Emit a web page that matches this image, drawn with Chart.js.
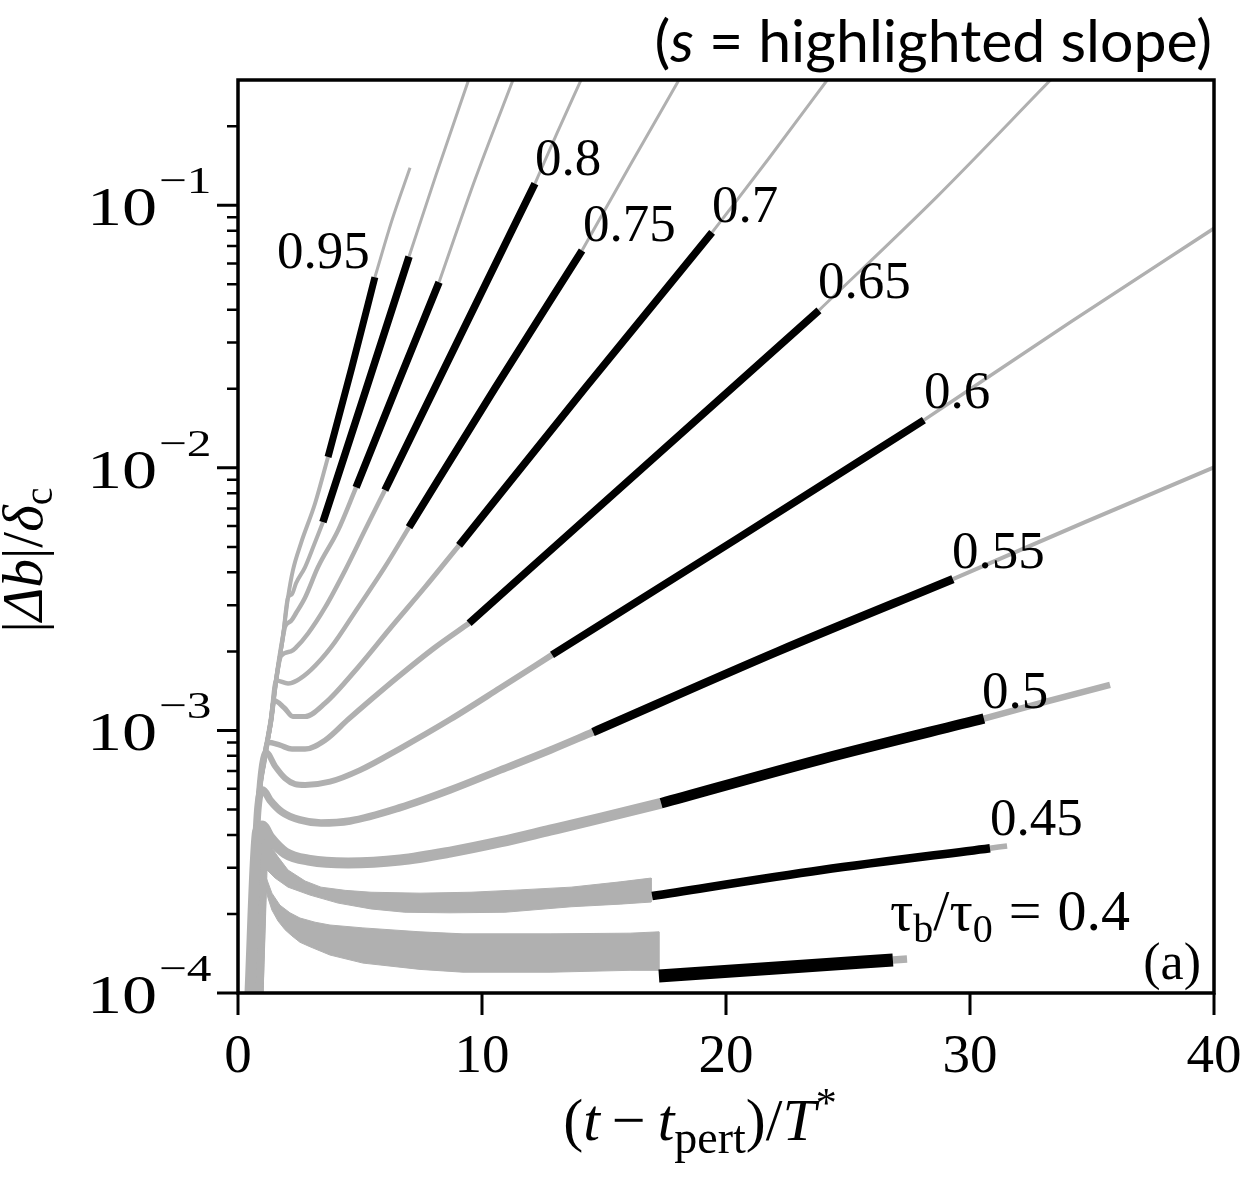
<!DOCTYPE html>
<html><head><meta charset="utf-8">
<script src="https://cdn.jsdelivr.net/npm/chart.js@4.4.1/dist/chart.umd.min.js"></script>
<style>html,body{margin:0;padding:0;background:#fff;}canvas{display:block;}</style>
</head><body>
<canvas id="c" width="1244" height="1179"></canvas>
<script>
// ---------- axes / ticks ----------
const xTickValues = [0, 10, 20, 30, 40];
const xTickLabels = ['0', '10', '20', '30', '40'];
const yMajorTicks = [1e-4, 1e-3, 1e-2, 1e-1];
const yTickBase = '10';
const yTickExponents = ['\u22124', '\u22123', '\u22122', '\u22121'];
const yMinorFactors = [2, 3, 4, 5, 6, 7, 8, 9];

// ---------- slope labels (tau_b/tau_0) ----------
const slopeLabels = ['0.95', '0.8', '0.75', '0.7', '0.65', '0.6', '0.55', '0.5', '0.45'];
const slopeLabelX = [1.60, 12.17, 14.14, 19.43, 23.77, 28.11, 29.26, 30.49, 30.82];
const slopeLabelY = [5.75e-2, 0.130, 7.29e-2, 8.61e-2, 4.43e-2, 1.69e-2, 4.15e-3, 1.22e-3, 3.99e-4];
const lowestLabelX = 26.72, lowestLabelY = 1.74e-4;

// ---------- curves: [t, |Δb|/δc] ----------
const c095Pre = [[0.47,9e-5],[0.82,5.1e-4],[1.07,7.7e-4],[1.35,1.09e-3],[1.56,1.55e-3],[1.84,2.27e-3],[2.05,3.21e-3],[2.25,4.07e-3],[2.58,5.16e-3],[3.16,7.33e-3],[3.69,1.10e-2]];
const c095Hi  = [[3.69,1.10e-2],[4.67,2.42e-2],[5.61,5.32e-2]];
const c095Post= [[5.61,5.32e-2],[6.31,8.77e-2],[7.05,0.139]];

const c090Pre = [[0.47,9e-5],[0.82,5.1e-4],[1.07,7.7e-4],[1.35,1.09e-3],[1.56,1.55e-3],[1.84,2.27e-3],[2.05,3.21e-3],[2.21,3.30e-3],[2.38,3.64e-3],[2.75,4.19e-3],[3.11,5.07e-3],[3.48,6.21e-3]];
const c090Hi  = [[3.48,6.21e-3],[5.25,1.99e-2],[7.01,6.38e-2]];
const c090Post= [[7.01,6.38e-2],[8.11,0.130],[9.45,0.30]];

const c085Pre = [[0.47,9e-5],[0.82,5.1e-4],[1.07,7.7e-4],[1.35,1.09e-3],[1.56,1.55e-3],[1.84,2.27e-3],[1.93,2.49e-3],[2.17,2.61e-3],[2.38,2.80e-3],[2.75,3.21e-3],[3.28,4.19e-3],[4.10,5.78e-3],[4.84,8.43e-3]];
const c085Hi  = [[4.84,8.43e-3],[6.52,2.06e-2],[8.24,5.09e-2]];
const c085Post= [[8.24,5.09e-2],[9.71,0.125],[11.27,0.30]];

const c080Pre = [[0.47,9e-5],[0.82,5.1e-4],[1.07,7.7e-4],[1.35,1.09e-3],[1.56,1.55e-3],[1.76,1.92e-3],[2.17,2.00e-3],[2.38,2.07e-3],[2.87,2.34e-3],[3.57,2.94e-3],[4.39,4.07e-3],[5.20,5.78e-3],[6.02,8.22e-3]];
const c080Hi  = [[6.02,8.22e-3],[9.10,3.17e-2],[12.17,0.121]];
const c080Post= [[12.17,0.121],[13.07,0.188],[14.06,0.30]];

const c075Pre = [[0.47,9e-5],[0.82,5.1e-4],[1.07,7.7e-4],[1.35,1.09e-3],[1.56,1.55e-3],[2.05,1.51e-3],[2.42,1.55e-3],[2.99,1.70e-3],[3.81,2.07e-3],[4.92,2.94e-3],[6.02,4.19e-3],[7.01,5.94e-3]];
const c075Hi  = [[7.01,5.94e-3],[10.53,2.01e-2],[14.10,6.73e-2]];
const c075Post= [[14.10,6.73e-2],[16.07,0.142],[18.07,0.30]];

const c070Pre = [[0.47,9e-5],[0.82,5.1e-4],[1.07,7.7e-4],[1.35,1.09e-3],[1.48,1.30e-3],[1.89,1.22e-3],[2.25,1.13e-3],[2.75,1.13e-3],[3.57,1.27e-3],[4.92,1.74e-3],[6.27,2.47e-3],[7.66,3.51e-3],[9.06,5.07e-3]];
const c070Hi  = [[9.06,5.07e-3],[14.22,2.01e-2],[19.43,7.88e-2]];
const c070Post= [[19.43,7.88e-2],[21.76,0.151],[24.15,0.30]];

const c065Pre = [[0.47,9e-5],[0.82,5.1e-4],[1.07,7.7e-4],[1.23,9.02e-4],[1.72,8.79e-4],[2.21,8.49e-4],[2.75,8.49e-4],[3.57,9.18e-4],[4.51,1.10e-3],[5.45,1.31e-3],[6.56,1.60e-3],[8.07,2.07e-3],[9.47,2.56e-3]];
const c065Hi  = [[9.47,2.56e-3],[16.64,1.01e-2],[23.81,3.98e-2]];
const c065Post= [[23.81,3.98e-2],[28.61,0.107],[33.3,0.30]];

const c060Pre = [[0.47,9e-5],[0.82,5.1e-4],[1.15,8.26e-4],[1.52,7.31e-4],[1.93,6.58e-4],[2.34,6.25e-4],[2.75,6.20e-4],[3.77,6.38e-4],[5.00,7.06e-4],[6.64,8.53e-4],[8.69,1.10e-3],[10.74,1.45e-3],[12.87,1.94e-3]];
const c060Hi  = [[12.87,1.94e-3],[20.49,5.40e-3],[28.11,1.52e-2]];
const c060Post= [[28.11,1.52e-2],[34.10,3.58e-2],[40,8.17e-2]];

const c055Pre = [[0.47,9e-5],[0.82,5.1e-4],[1.02,5.93e-4],[1.31,5.43e-4],[1.80,4.89e-4],[2.54,4.56e-4],[3.40,4.44e-4],[4.59,4.52e-4],[6.64,5.08e-4],[8.69,5.93e-4],[10.74,7.06e-4],[12.79,8.41e-4],[14.55,9.86e-4]];
const c055Hi  = [[14.55,9.86e-4],[22.13,2.00e-3],[29.30,3.77e-3]];
const c055Post= [[29.30,3.77e-3],[34.71,6.21e-3],[40,1.005e-2]];

const c050Pre = [[0.47,9e-5],[0.80,4.1e-4],[0.98,4.33e-4],[1.31,3.90e-4],[1.93,3.42e-4],[2.95,3.20e-4],[4.51,3.13e-4],[6.64,3.21e-4],[8.69,3.44e-4],[10.74,3.76e-4],[12.79,4.17e-4],[14.84,4.63e-4],[17.34,5.28e-4]];
const c050Hi  = [[17.34,5.28e-4],[23.93,7.78e-4],[30.57,1.11e-3]];
const c050Post= [[30.57,1.11e-3],[33.16,1.29e-3],[35.74,1.49e-3]];

const band045Upper = [[0.41,9.4e-5],[0.76,3.8e-4],[0.98,4.05e-4],[1.15,3.85e-4],[1.64,3.30e-4],[2.05,2.94e-4],[2.75,2.67e-4],[3.40,2.53e-4],[4.39,2.46e-4],[5.45,2.42e-4],[7.46,2.40e-4],[9.55,2.42e-4],[11.56,2.47e-4],[13.65,2.53e-4],[15.66,2.65e-4],[16.93,2.74e-4]];
const band045Lower = [[1.02,9.4e-5],[1.19,2.94e-4],[1.52,2.74e-4],[2.05,2.53e-4],[2.95,2.36e-4],[4.10,2.20e-4],[5.45,2.09e-4],[6.84,2.03e-4],[8.69,2.02e-4],[10.94,2.03e-4],[13.65,2.13e-4],[15.66,2.18e-4],[16.93,2.22e-4]];
const c045Hi  = [[16.97,2.34e-4],[23.93,2.94e-4],[30.82,3.56e-4]];
const c045Post= [[30.82,3.56e-4],[31.52,3.63e-4]];

const band040Upper = [[0.39,9.4e-5],[0.72,2.9e-4],[0.95,3.0e-4],[1.15,2.76e-4],[1.39,2.40e-4],[1.72,2.16e-4],[2.13,2.02e-4],[2.54,1.93e-4],[3.16,1.86e-4],[3.77,1.815e-4],[5.12,1.77e-4],[7.46,1.71e-4],[9.22,1.68e-4],[12.79,1.68e-4],[16.07,1.69e-4],[17.25,1.71e-4]];
const band040Lower = [[1.02,9.4e-5],[1.15,2.47e-4],[1.23,2.30e-4],[1.39,2.07e-4],[1.64,1.88e-4],[1.93,1.74e-4],[2.21,1.65e-4],[2.54,1.56e-4],[2.95,1.50e-4],[3.77,1.395e-4],[5.12,1.30e-4],[7.46,1.23e-4],[9.22,1.20e-4],[12.79,1.20e-4],[16.07,1.22e-4],[17.25,1.22e-4]];
const c040Hi  = [[17.25,1.161e-4],[22.05,1.245e-4],[26.84,1.335e-4]];
const c040Post= [[26.84,1.335e-4],[27.42,1.347e-4]];

// ---------- build datasets ----------
const GRAY = '#b0b0b0';
const BLACK = '#000000';
const toPts = a => a.map(p => ({x: p[0], y: p[1]}));
const datasets = [];
function line(arr, color, width, order) {
  datasets.push({data: toPts(arr), showLine: true, borderColor: color, borderWidth: width,
    pointRadius: 0, pointHoverRadius: 0, fill: false, order: order, clip: 0,
    cubicInterpolationMode: 'monotone', borderCapStyle: 'butt', borderJoinStyle: 'round'});
}
function band(upper, lower, order) {
  const poly = upper.concat(lower.slice().reverse());
  datasets.push({data: toPts(poly), showLine: true, borderColor: GRAY, borderWidth: 1,
    backgroundColor: GRAY, fill: 'shape', pointRadius: 0, tension: 0, order: order, clip: 0});
}
band(band040Upper, band040Lower, 5);
band(band045Upper, band045Lower, 5);
line(c050Pre, GRAY, 11, 4);
line(c055Pre, GRAY, 7.5, 4);
line(c060Pre, GRAY, 6, 4);
line(c065Pre, GRAY, 5.5, 4);
line(c070Pre, GRAY, 5, 4);
line(c075Pre, GRAY, 4.5, 4);
line(c080Pre, GRAY, 4.5, 4);
line(c085Pre, GRAY, 4.5, 4);
line(c090Pre, GRAY, 4, 4);
line(c095Pre, GRAY, 4, 4);
line(c040Post, GRAY, 7.5, 3);
line(c045Post, GRAY, 5.5, 3);
line(c050Post, GRAY, 6.5, 3);
line(c055Post, GRAY, 4, 3);
line(c060Post, GRAY, 3.5, 3);
line(c065Post, GRAY, 3, 3);
line(c070Post, GRAY, 3, 3);
line(c075Post, GRAY, 3, 3);
line(c080Post, GRAY, 3, 3);
line(c085Post, GRAY, 3, 3);
line(c090Post, GRAY, 3, 3);
line(c095Post, GRAY, 3, 3);
line(c040Hi, BLACK, 13, 1);
line(c045Hi, BLACK, 8.5, 1);
line(c050Hi, BLACK, 10.5, 1);
line(c055Hi, BLACK, 8.5, 1);
line(c060Hi, BLACK, 7.5, 1);
line(c065Hi, BLACK, 7.5, 1);
line(c070Hi, BLACK, 7.5, 1);
line(c075Hi, BLACK, 7.5, 1);
line(c080Hi, BLACK, 7.5, 1);
line(c085Hi, BLACK, 7.5, 1);
line(c090Hi, BLACK, 7.5, 1);
line(c095Hi, BLACK, 7, 1);

// ---------- text helpers ----------
const SERIF = '"Liberation Serif", "Times New Roman", serif';
const fnt = (size, italic) => (italic ? 'italic ' : '') + size + 'px ' + SERIF;
function richWidth(ctx, parts) {
  let w = 0;
  for (const p of parts) { ctx.font = p.f; w += ctx.measureText(p.t).width + (p.gap || 0); }
  return w;
}
function drawRich(ctx, parts, x, y, align) {
  const w = richWidth(ctx, parts);
  let cx = align === 'center' ? x - w / 2 : (align === 'right' ? x - w : x);
  ctx.textAlign = 'left';
  for (const p of parts) {
    ctx.font = p.f;
    ctx.fillText(p.t, cx, y + (p.dy || 0));
    cx += ctx.measureText(p.t).width + (p.gap || 0);
  }
}

const decorPlugin = {
  id: 'decor',
  afterDraw(chart) {
    const {ctx, chartArea: a, scales: {x, y}} = chart;
    ctx.save();
    ctx.fillStyle = '#000';
    ctx.strokeStyle = '#000';
    // frame
    ctx.lineWidth = 3.5;
    ctx.strokeRect(a.left, a.top, a.right - a.left, a.bottom - a.top);
    // x ticks
    ctx.lineWidth = 3;
    ctx.beginPath();
    xTickValues.forEach(v => { const px = x.getPixelForValue(v); ctx.moveTo(px, a.bottom); ctx.lineTo(px, a.bottom + 22); });
    // y major ticks
    yMajorTicks.forEach(v => { const py = y.getPixelForValue(v); ctx.moveTo(a.left, py); ctx.lineTo(a.left - 21, py); });
    ctx.stroke();
    ctx.lineWidth = 2.5;
    ctx.beginPath();
    yMajorTicks.forEach(d => yMinorFactors.forEach(f => {
      const v = d * f;
      if (v <= y.max) { const py = y.getPixelForValue(v); ctx.moveTo(a.left, py); ctx.lineTo(a.left - 11, py); }
    }));
    ctx.stroke();
    // x tick labels
    ctx.textBaseline = 'alphabetic';
    ctx.textAlign = 'center';
    ctx.font = fnt(55, false);
    xTickValues.forEach((v, i) => ctx.fillText(xTickLabels[i], x.getPixelForValue(v), 1072));
    // y tick labels 10^n
    ctx.textAlign = 'left';
    yMajorTicks.forEach((v, i) => {
      const py = y.getPixelForValue(v);
      ctx.save(); ctx.translate(87, py + 20); ctx.scale(1.3, 1); ctx.font = fnt(54, false); ctx.fillText(yTickBase, 0, 0); ctx.restore();
      ctx.save(); ctx.translate(159, py - 12); ctx.scale(1.3, 1); ctx.font = fnt(38, false); ctx.fillText(yTickExponents[i], 0, 0); ctx.restore();
    });
    // slope labels
    ctx.font = fnt(53, false);
    slopeLabels.forEach((t, i) => ctx.fillText(t, x.getPixelForValue(slopeLabelX[i]), y.getPixelForValue(slopeLabelY[i])));
    drawRich(ctx, [
      {t: '\u03C4', f: fnt(58, false)}, {t: 'b', f: fnt(40, false), dy: 12},
      {t: '/\u03C4', f: fnt(58, false)}, {t: '0', f: fnt(40, false), dy: 12, gap: 16},
      {t: '=', f: fnt(58, false), gap: 16}, {t: '0.4', f: fnt(58, false)}
    ], x.getPixelForValue(lowestLabelX), y.getPixelForValue(lowestLabelY), 'left');
    // panel tag
    ctx.font = fnt(52, false);
    ctx.textAlign = 'right';
    ctx.fillText('(a)', a.right - 13, a.bottom - 14);
    // x axis title
    drawRich(ctx, [
      {t: '(', f: fnt(60, false)}, {t: 't', f: fnt(60, true), gap: 12}, {t: '\u2212', f: fnt(60, false), gap: 12},
      {t: 't', f: fnt(60, true)}, {t: 'pert', f: fnt(46, false), dy: 13}, {t: ')/', f: fnt(60, false)},
      {t: 'T', f: fnt(60, true)}, {t: '*', f: fnt(42, false), dy: -23}
    ], 700, 1140, 'center');
    // y axis title (rotated)
    ctx.save();
    ctx.translate(42, 560);
    ctx.rotate(-Math.PI / 2);
    drawRich(ctx, [
      {t: '|', f: fnt(57, false)}, {t: '\u0394b', f: fnt(57, true)}, {t: '|/', f: fnt(57, false)},
      {t: '\u03B4', f: fnt(57, true)}, {t: 'c', f: fnt(40, false), dy: 10}
    ], 0, 0, 'center');
    ctx.restore();
    // top note
    drawRich(ctx, [
      {t: '(', f: '59px Lato'}, {t: 's', f: 'italic 59px Lato'}, {t: ' = highlighted slope)', f: '59px Lato'}
    ], 1212, 62, 'right');
    ctx.restore();
  }
};

new Chart(document.getElementById('c'), {
  type: 'scatter',
  data: {datasets},
  options: {
    responsive: false, animation: false, devicePixelRatio: 1,
    layout: {padding: {left: 0, right: 30, top: 80, bottom: 0}},
    scales: {
      x: {type: 'linear', min: 0, max: 40, ticks: {display: false}, grid: {display: false}, border: {display: false},
          afterFit: s => { s.height = 1179 - 993; s.paddingLeft = 0; s.paddingRight = 0; }},
      y: {type: 'logarithmic', min: 1e-4, max: 0.3, ticks: {display: false}, grid: {display: false}, border: {display: false},
          afterFit: s => { s.width = 238; s.paddingTop = 0; s.paddingBottom = 0; }}
    },
    plugins: {legend: {display: false}, tooltip: {enabled: false}}
  },
  plugins: [decorPlugin]
});
</script></body></html>
